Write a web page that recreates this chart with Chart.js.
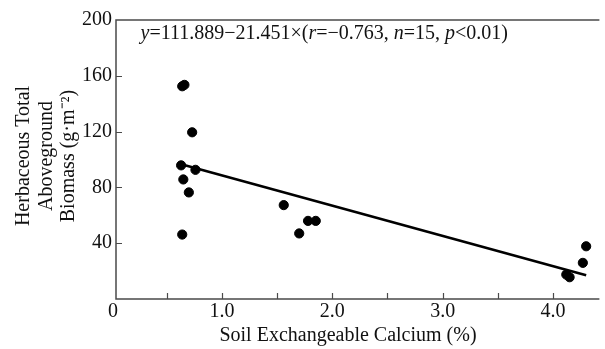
<!DOCTYPE html>
<html>
<head>
<meta charset="utf-8">
<script src="https://cdn.jsdelivr.net/npm/chart.js@4/dist/chart.umd.min.js"></script>
<style>
  html,body{margin:0;padding:0;background:#fff;}
  #c{display:block;}
</style>
</head>
<body>
<canvas id="c" width="605" height="349"></canvas>
<script>
// soil exchangeable calcium (%) vs herbaceous biomass (g/m2)
const calcium = [0.64,0.66,0.73,0.63,0.76,0.65,0.70,0.64,1.56,1.70,1.78,1.85,4.30,4.27,4.12,4.15];
const biomass = [152.5,153.5,119.5,95.8,92.6,85.7,76.4,46.2,67.3,47.0,56.0,56.0,37.8,25.9,17.5,15.6];
// regression line end points as drawn
const fitX = [0.64, 4.30];
const fitY = [96.5, 17.0];
const xTicks = [0, 1, 2, 3, 4];
const xMinor = [0.5, 1.5, 2.5, 3.5];
const yTicks = [40, 80, 120, 160];

const FONT = "'Liberation Serif','Times New Roman',serif";
const AXIS = "#4a4a4a";

const eqParts = [
  ["y", true], ["=111.889\u221221.451\u00d7(", false],
  ["r", true], ["=\u22120.763, ", false],
  ["n", true], ["=15, ", false],
  ["p", true], ["<0.01)", false]
];

const decor = {
  id: "decor",
  afterDraw(chart) {
    const ctx = chart.ctx, a = chart.chartArea;
    const xs = chart.scales.x, ys = chart.scales.y;
    ctx.save();
    // frame: top, left, bottom
    ctx.strokeStyle = AXIS; ctx.lineWidth = 1.5;
    ctx.beginPath();
    ctx.moveTo(a.right, a.top); ctx.lineTo(a.left, a.top);
    ctx.lineTo(a.left, a.bottom); ctx.lineTo(a.right, a.bottom);
    ctx.stroke();
    // inward ticks
    ctx.lineWidth = 1.2;
    ctx.beginPath();
    xTicks.concat(xMinor).forEach(v => {
      if (v < xs.min) return;
      const px = Math.round(xs.getPixelForValue(v)) + 0.5;
      ctx.moveTo(px, a.bottom); ctx.lineTo(px, a.bottom - 6);
    });
    yTicks.forEach(v => {
      const py = Math.round(ys.getPixelForValue(v)) + 0.5;
      ctx.moveTo(a.left, py); ctx.lineTo(a.left + 6, py);
    });
    ctx.stroke();

    // x tick labels
    ctx.fillStyle = "#111";
    ctx.font = "20px " + FONT;
    ctx.textAlign = "center"; ctx.textBaseline = "middle";
    xTicks.forEach(v => {
      let px = xs.getPixelForValue(v);
      ctx.fillText(v === 0 ? "0" : v.toFixed(1), px + (v === 0 ? 1.5 : 0), 312);
    });

    // x title
    ctx.fillText("Soil Exchangeable Calcium (%)", 348, 336);

    // y title (3 lines, rotated)
    const yLines = ["Herbaceous Total", "Aboveground", "Biomass (g\u00b7m\u207b\u00b2)"];
    const cx = [24, 46.5, 69];
    yLines.forEach((t, i) => {
      ctx.save();
      ctx.translate(cx[i], 156);
      ctx.rotate(-Math.PI / 2);
      ctx.fillText(t, 0, 0);
      ctx.restore();
    });

    // equation
    ctx.textAlign = "left";
    let x = 140.5;
    eqParts.forEach(([t, it]) => {
      ctx.font = (it ? "italic " : "") + "20px " + FONT;
      ctx.fillText(t, x, 34);
      x += ctx.measureText(t).width;
    });
    ctx.restore();
  }
};

new Chart(document.getElementById("c"), {
  type: "scatter",
  data: {
    datasets: [
      {
        type: "scatter",
        data: calcium.map((c, i) => ({x: c, y: biomass[i]})),
        backgroundColor: "#000", borderColor: "#000",
        pointRadius: 4.6, pointHoverRadius: 4.6
      },
      {
        type: "line",
        data: fitX.map((c, i) => ({x: c, y: fitY[i]})),
        borderColor: "#000", borderWidth: 2.6,
        pointRadius: 0, fill: false, tension: 0
      }
    ]
  },
  options: {
    responsive: false,
    animation: false,
    layout: {padding: {left: 0, right: 0, top: 20, bottom: 0}},
    plugins: {legend: {display: false}, tooltip: {enabled: false}},
    scales: {
      x: {
        type: "linear", min: 0.04, max: 4.42,
        grid: {display: false, drawTicks: false},
        border: {display: false},
        ticks: {display: false},
        afterFit: s => { s.height = 50; }
      },
      y: {
        min: 0, max: 200,
        grid: {display: false, drawTicks: false},
        border: {display: false},
        ticks: {
          stepSize: 40, padding: 4, color: "#111",
          font: {family: FONT, size: 20},
          callback: v => v === 0 ? "" : v
        },
        afterFit: s => { s.width = 116; }
      }
    }
  },
  plugins: [decor]
});
</script>
</body>
</html>
